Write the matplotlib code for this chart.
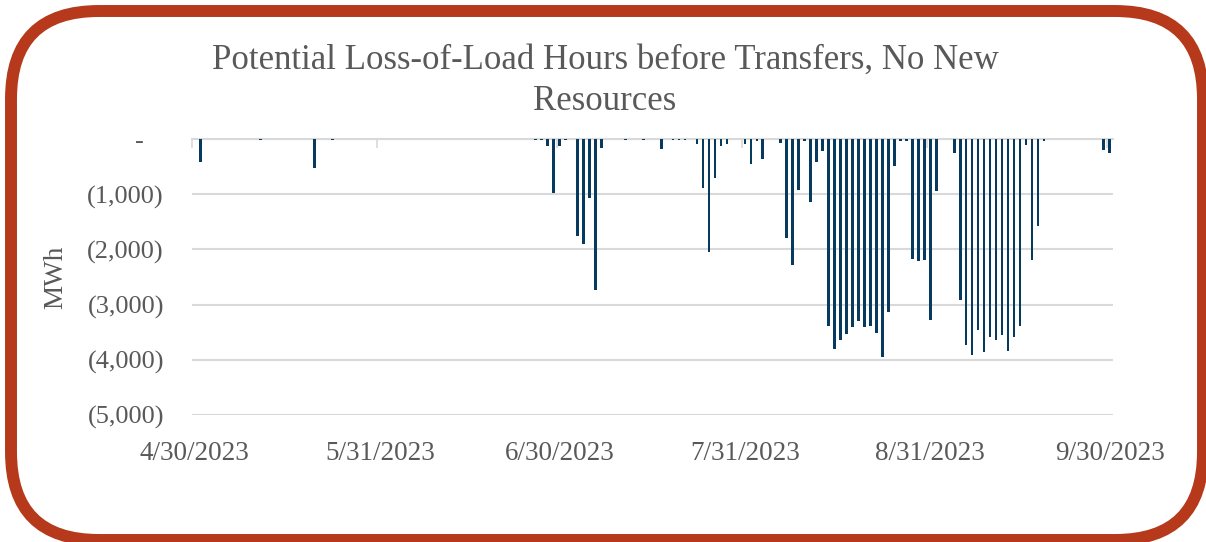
import pandas as pd
import matplotlib.pyplot as plt
import matplotlib.dates as mdates
from matplotlib.patches import FancyBboxPatch
from matplotlib.ticker import FuncFormatter

# daily loss-of-load (MWh), only days with a visible bar
dates = [
    '2023-05-01', '2023-05-11', '2023-05-20', '2023-05-23',
    '2023-06-26', '2023-06-27', '2023-06-28', '2023-06-29', '2023-06-30', '2023-07-01',
    '2023-07-03', '2023-07-04', '2023-07-05', '2023-07-06', '2023-07-07',
    '2023-07-11', '2023-07-14', '2023-07-17', '2023-07-19', '2023-07-20', '2023-07-21',
    '2023-07-23', '2023-07-24', '2023-07-25', '2023-07-26', '2023-07-27', '2023-07-28',
    '2023-07-31', '2023-08-01', '2023-08-02', '2023-08-03',
    '2023-08-06', '2023-08-07', '2023-08-08', '2023-08-09', '2023-08-10', '2023-08-11',
    '2023-08-12', '2023-08-13', '2023-08-14', '2023-08-15', '2023-08-16', '2023-08-17',
    '2023-08-18', '2023-08-19', '2023-08-20', '2023-08-21', '2023-08-22', '2023-08-23',
    '2023-08-24', '2023-08-25', '2023-08-26', '2023-08-27', '2023-08-28', '2023-08-29',
    '2023-08-30', '2023-08-31', '2023-09-01',
    '2023-09-04', '2023-09-05', '2023-09-06', '2023-09-07', '2023-09-08', '2023-09-09',
    '2023-09-10', '2023-09-11', '2023-09-12', '2023-09-13', '2023-09-14', '2023-09-15',
    '2023-09-16', '2023-09-17', '2023-09-18', '2023-09-19',
    '2023-09-29', '2023-09-30',
]
mwh = [
    -405, -10, -514, -10,
    -15, -10, -121, -973, -115, -15,
    -1764, -1903, -1058, -2742, -152,
    -15, -10, -176, -10, -10, -10,
    -91, -877, -2054, -696, -116, -91,
    -85, -442, -30, -357,
    -60, -1800, -2290, -918, -30, -1141,
    -405, -207, -3394, -3804, -3648, -3539,
    -3406, -3297, -3406, -3394, -3515, -3949,
    -3141, -478, -34, -30, -2168, -2205,
    -2199, -3285, -936,
    -254, -2923, -3733, -3920, -3467, -3866,
    -3587, -3648, -3558, -3841, -3594, -3382,
    -103, -2199, -1583, -40,
    -194, -242,
]
month_ticks = ['2023-04-30', '2023-05-31', '2023-06-30', '2023-07-31', '2023-08-31', '2023-09-30']

title = 'Potential Loss-of-Load Hours before Transfers, No New\nResources'
bar_color = '#063a5e'
text_color = '#595959'
grid_color = '#d9d9d9'

plt.rcParams['font.family'] = ['Liberation Serif', 'DejaVu Serif']

x = pd.to_datetime(dates)
ticks = pd.to_datetime(month_ticks)
day = pd.Timedelta(days=1)

fig = plt.figure(figsize=(12.06, 5.42), dpi=100)
ax = fig.add_axes([0.159, 0.2349, 0.7636, 0.5081])

ax.bar(x, mwh, width=0.45, color=bar_color, zorder=3)

ax.set_ylim(-5000, 0)
ax.set_yticks([0, -1000, -2000, -3000, -4000, -5000])
ax.yaxis.set_major_formatter(FuncFormatter(
    lambda v, p: '-   ' if v == 0 else f'({abs(v):,.0f})'))
ax.grid(axis='y', color=grid_color, linewidth=1.5, zorder=0)

ax.set_xlim(ticks[0] - 0.5 * day, ticks[-1] + 0.5 * day)
ax.set_xticks(ticks)
ax.xaxis.set_major_formatter(mdates.DateFormatter('%-m/%d/%Y'))
# month boundary tick marks hang from the zero line
ax.set_xticks([t - 0.5 * day for t in ticks], minor=True)
ax.tick_params(axis='x', which='major', length=0, pad=19, labelsize=19.5, labelcolor=text_color)
ax.tick_params(axis='x', which='minor', bottom=False, top=True, direction='in',
               length=6.5, width=1.2, color=grid_color)
ax.tick_params(axis='y', length=0, pad=20, labelsize=19, labelcolor=text_color)

for side in ['left', 'right', 'bottom']:
    ax.spines[side].set_visible(False)
ax.spines['top'].set_color(grid_color)
ax.spines['top'].set_linewidth(1.5)

fig.text(0.0465, 0.489, 'MWh', rotation=90, ha='center', va='center',
         fontsize=19.5, color=text_color)
fig.text(0.5017, 0.851, title, ha='center', va='center', fontsize=25,
         color=text_color, linespacing=1.3)

# rounded frame around the whole chart
frame = FancyBboxPatch((11, 2), 1192, 529, boxstyle='round,pad=0,rounding_size=88',
                       transform=None, facecolor='none', edgecolor='#b5391a',
                       linewidth=8.6, zorder=10)
fig.patches.append(frame)

fig.savefig('out.png', dpi=100)
